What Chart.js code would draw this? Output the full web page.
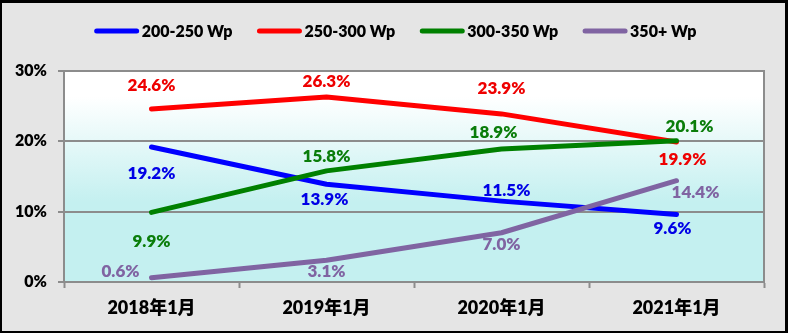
<!DOCTYPE html>
<html>
<head>
<meta charset="utf-8">
<script src="https://cdn.jsdelivr.net/npm/chart.js@4/dist/chart.umd.min.js"></script>
<style>
  html, body { margin: 0; padding: 0; background: #000; }
  #wrap {
    width: 788px; height: 333px; box-sizing: border-box;
    border: 2px solid #000; border-top-width: 3px; border-right-width: 3px;
    background: #e5e5e5; overflow: hidden;
  }
  canvas { display: block; }
</style>
</head>
<body>
<div id="wrap"><canvas id="c" width="783" height="328"></canvas></div>
<script>
// Module price-band shares by period (percent)
const categories = ['2018年1月', '2019年1月', '2020年1月', '2021年1月'];
const seriesNames = ['200-250 Wp', '250-300 Wp', '300-350 Wp', '350+ Wp'];
const band200_250 = [19.2, 13.9, 11.5, 9.6];
const band250_300 = [24.6, 26.3, 23.9, 19.9];
const band300_350 = [9.9, 15.8, 18.9, 20.1];
const band350plus = [0.6, 3.1, 7.0, 14.4];
const yTicks = [0, 10, 20, 30];

const colors = ['#0000ff', '#ff0000', '#008000', '#8064a2'];
const labelColors = ['#0000e6', '#ee0000', '#0a7d0a', '#8064a2'];

// label placement relative to each point, in pixels [dx, dy]
const labelOffsets = [
  [[0, 27], [-2, 15], [5, -11], [-4, 14]],
  [[0, -23], [0, -16], [0, -25], [6, 17]],
  [[0, 29], [0, -14], [-8, -17], [13, -14]],
  [[-31, -6], [0, 11], [0, 12], [19, 12]]
];

const FONT = "Lato, 'Noto Sans CJK SC', sans-serif";
const WEIGHT = '800';

const plotBackground = {
  id: 'plotBackground',
  beforeDraw(chart) {
    const { ctx, chartArea: a } = chart;
    const g = ctx.createLinearGradient(0, a.top, 0, a.bottom);
    g.addColorStop(0, '#ffffff');
    g.addColorStop(0.12, '#ffffff');
    g.addColorStop(0.62, '#c4f0f0');
    g.addColorStop(1, '#c4f0f0');
    ctx.save();
    ctx.fillStyle = g;
    ctx.fillRect(a.left, a.top, a.right - a.left, a.bottom - a.top);
    ctx.restore();
  },
  afterDraw(chart) {
    const { ctx, chartArea: a } = chart;
    ctx.save();
    ctx.strokeStyle = '#8c8c8c';
    ctx.lineWidth = 2;
    ctx.beginPath();
    ctx.moveTo(a.right, a.top - 1);
    ctx.lineTo(a.right, a.bottom);
    ctx.stroke();
    ctx.restore();
  }
};

const valueLabels = {
  id: 'valueLabels',
  afterDatasetsDraw(chart) {
    const ctx = chart.ctx;
    ctx.save();
    ctx.font = WEIGHT + ' 17px ' + FONT;
    ctx.textAlign = 'center';
    ctx.textBaseline = 'middle';
    chart.data.datasets.forEach((ds, di) => {
      const meta = chart.getDatasetMeta(di);
      meta.data.forEach((pt, i) => {
        const [dx, dy] = labelOffsets[di][i];
        ctx.fillStyle = labelColors[di];
        ctx.fillText(ds.data[i].toFixed(1) + '%', pt.x + dx, pt.y + dy);
      });
    });
    ctx.restore();
  }
};

const lineLegend = {
  id: 'lineLegend',
  afterDraw(chart) {
    const ctx = chart.ctx;
    const lineW = 44, gap = 3, itemGap = 25, yMid = 28;
    ctx.save();
    ctx.font = WEIGHT + ' 16px ' + FONT;
    ctx.textBaseline = 'middle';
    const items = chart.data.datasets.map(ds => ({
      label: ds.label, color: ds.borderColor,
      w: lineW + gap + ctx.measureText(ds.label).width
    }));
    const total = items.reduce((s, it) => s + it.w, 0) + itemGap * (items.length - 1);
    let x = (chart.width - total) / 2 + 2;
    items.forEach(it => {
      ctx.strokeStyle = it.color;
      ctx.lineWidth = 5;
      ctx.lineCap = 'round';
      ctx.beginPath();
      ctx.moveTo(x + 2, yMid);
      ctx.lineTo(x + lineW - 2, yMid);
      ctx.stroke();
      ctx.fillStyle = '#000';
      ctx.textAlign = 'left';
      ctx.fillText(it.label, x + lineW + gap, yMid + 1);
      x += it.w + itemGap;
    });
    ctx.restore();
  }
};

const seriesData = [band200_250, band250_300, band300_350, band350plus];

new Chart(document.getElementById('c'), {
  type: 'line',
  data: {
    labels: categories,
    datasets: seriesData.map((d, i) => ({
      label: seriesNames[i],
      data: d,
      borderColor: colors[i],
      backgroundColor: colors[i],
      borderWidth: 5,
      borderCapStyle: 'round',
      borderJoinStyle: 'round',
      pointRadius: 0,
      tension: 0,
      order: seriesData.length - 1 - i
    }))
  },
  options: {
    responsive: false,
    animation: false,
    layout: { padding: { left: 0, right: 21, top: 68, bottom: 0 } },
    plugins: { legend: { display: false }, tooltip: { enabled: false } },
    scales: {
      x: {
        offset: true,
        grid: {
          offset: true, drawOnChartArea: false, drawTicks: true,
          tickLength: 6, tickWidth: 2, tickColor: '#8c8c8c'
        },
        border: { display: true, color: '#8c8c8c', width: 2 },
        ticks: {
          color: '#000', padding: 9, maxRotation: 0,
          font: { family: FONT, size: 18, weight: WEIGHT }
        },
        afterFit(s) { s.height = 49; }
      },
      y: {
        min: 0, max: 30,
        afterBuildTicks(s) { s.ticks = yTicks.map(v => ({ value: v })); },
        grid: {
          color: '#8c8c8c', lineWidth: 2, drawTicks: true,
          tickLength: 6, tickWidth: 2, tickColor: '#8c8c8c'
        },
        border: { display: true, color: '#8c8c8c', width: 2 },
        ticks: {
          color: '#000', padding: 11,
          font: { family: FONT, size: 16, weight: WEIGHT },
          callback: v => v + '%'
        },
        afterFit(s) { s.width = 62; }
      }
    }
  },
  plugins: [plotBackground, valueLabels, lineLegend]
});
</script>
</body>
</html>
